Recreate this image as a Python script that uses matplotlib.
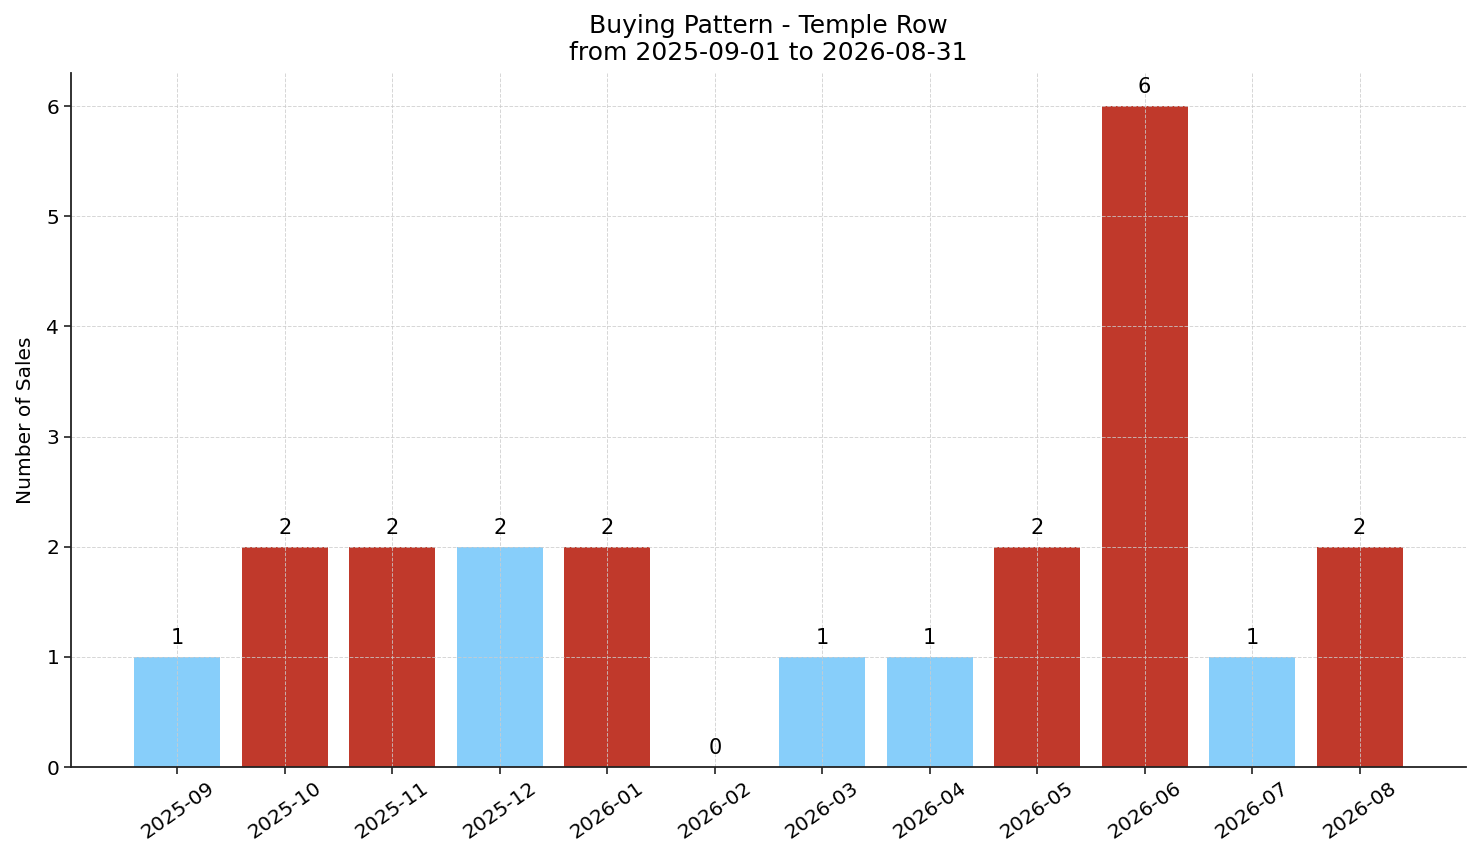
import matplotlib
matplotlib.use("Agg")
import matplotlib.pyplot as plt

months = ["2025-09", "2025-10", "2025-11", "2025-12", "2026-01", "2026-02",
          "2026-03", "2026-04", "2026-05", "2026-06", "2026-07", "2026-08"]
sales = [1, 2, 2, 2, 2, 0, 1, 1, 2, 6, 1, 2]
bar_colors = ["#87CEFA", "#C0392B", "#C0392B", "#87CEFA", "#C0392B", "#87CEFA",
              "#87CEFA", "#87CEFA", "#C0392B", "#C0392B", "#87CEFA", "#C0392B"]
title = "Buying Pattern - Temple Row\nfrom 2025-09-01 to 2026-08-31"

fig = plt.figure(figsize=(14.81, 8.63), dpi=100)
ax = fig.add_axes([71/1481, 1 - 767/863, (1466-71)/1481, (767-73)/863])
x = list(range(len(months)))
bars = ax.bar(x, sales, color=bar_colors, width=0.8)
for xi, v in zip(x, sales):
    ax.text(xi, v + 0.08, str(v), ha="center", va="bottom", fontsize=15)
ax.set_xticks(x)
ax.set_xticklabels(months, rotation=35, ha="center", fontsize=14.5)
ax.tick_params(axis="both", labelsize=14.5, length=5, width=1.2, color="#222222")
ax.set_ylabel("Number of Sales", fontsize=14.5, labelpad=8)
ax.set_title(title, fontsize=18, pad=9)
ax.grid(True, linestyle="--", color="#cccccc", alpha=0.8, linewidth=0.7)
ax.spines["top"].set_visible(False)
ax.spines["right"].set_visible(False)
for s in ("left", "bottom"):
    ax.spines[s].set_linewidth(1.3)
    ax.spines[s].set_color("#222222")
fig.savefig("out.png", dpi=100)
